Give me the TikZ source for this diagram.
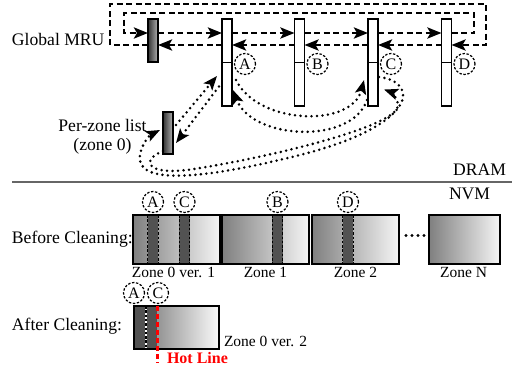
\documentclass[tikz,border=0pt]{standalone}
\usepackage{fontspec}
\setmainfont{Liberation Serif}
\usetikzlibrary{arrows.meta,calc}

\begin{document}
\begin{tikzpicture}[x=1pt,y=-1pt,
  font=\fontsize{17.6}{19}\selectfont,
  every node/.style={inner sep=0pt, outer sep=0pt},
  mru/.style={draw, line width=1.6pt, fill=white, minimum width=10pt, minimum height=87pt},
  listhead/.style={draw, line width=1.6pt, left color=black!80, right color=black!30, minimum width=10pt},
  tag/.style={circle, draw, dash pattern=on 2.4pt off 1.6pt, line width=1.2pt, fill=white, minimum size=21pt, font=\fontsize{16}{16}\selectfont},
  ptr/.style={line width=2.8pt, dash pattern=on 6pt off 3.5pt, -{Stealth[length=14pt,width=11pt,inset=3pt]}},
  dotptr/.style={line width=2.8pt, line cap=round, dash pattern=on 0pt off 5.5pt, -{Stealth[length=14pt,width=11pt,inset=3pt]}},
  zone/.style={draw, line width=1.8pt, left color=black!50, right color=black!4, minimum height=49pt},
  stripe/.style={fill=black!68, minimum width=10.5pt, minimum height=49pt},
  stripeedge/.style={line width=1.2pt, dash pattern=on 2.5pt off 1.8pt},
  lbl/.style={font=\fontsize{15.5}{16}\selectfont},
]
\fill[white] (0,0) rectangle (512,368);
\useasboundingbox (0,0) rectangle (512,368);

% ---------- DRAM: global MRU list ----------
\coordinate (fwd) at (0,33);
\coordinate (bwd) at (0,45);

\node[listhead, minimum height=43pt] (head) at (153,40.5) {};
\foreach \n/\x in {A/227,B/299.5,C/373,D/446.5}{
  \node[mru] (\n) at (\x,62.5) {};
  \draw[line width=1.8pt] (\n.west) -- (\n.east);
  \node[tag] (t\n) at ($(\n.east)+(13,1.5)$) {\n};
}
\node[anchor=base west] (gmru) at (12,45) {Global MRU};

% forward and backward pointers
\draw[ptr] (head.east |- fwd) -- (A.west |- fwd);
\draw[ptr] (A.east |- fwd) -- (B.west |- fwd);
\draw[ptr] (B.east |- fwd) -- (C.west |- fwd);
\draw[ptr] (C.east |- fwd) -- (D.west |- fwd);
\draw[ptr] (A.west |- bwd) -- (head.east |- bwd);
\draw[ptr] (B.west |- bwd) -- (A.east |- bwd);
\draw[ptr] (C.west |- bwd) -- (B.east |- bwd);
\draw[ptr] (D.west |- bwd) -- (C.east |- bwd);
% wrap-around pointers
\draw[ptr] (D.east |- fwd) -- (474,33) -- (474,13) -- (124,13) -- (124,33) -- (head.west |- fwd);
\draw[ptr] (head.west |- bwd) -- (110,45) -- (110,4) -- (486,4) -- (486,45) -- (D.east |- bwd);

% ---------- DRAM: per-zone list ----------
\node[listhead, minimum height=42pt] (pz) at (168,133) {};
\node[anchor=base] (pzl1) at (102.5,131) {Per-zone list};
\node[anchor=base] (pzl2) at (102.5,150) {(zone 0)};

\draw[dotptr] ($(pz.east)+(3,-8)$) -- ($(A.west)+(-5,13.5)$);
\draw[dotptr] ($(A.west)+(-3,24)$) -- ($(pz.east)+(3,10)$);
\draw[dotptr] ($(A.east)+(4,17.5)$) .. controls (258,125) and (352,128) .. ($(C.west)+(-4,17.5)$);
\draw[dotptr] ($(C.south west)+(-1,-6)$) .. controls (352,145) and (252,140) .. ($(A.east)+(1,27.5)$);
\draw[dotptr] ($(C.east)+(1,14.5)$) .. controls (420,82) and (418,125) .. (300,155)
   .. controls (200,180) and (135,185) .. (140,155)
   .. controls (142,143) and (150,135) .. ($(pz.west)+(-3,-3)$);
\draw[dotptr] ($(pz.south west)+(0,-3)$) .. controls (140,160) and (145,178) .. (200,168)
   .. controls (280,155) and (400,125) .. (398,105)
   .. controls (397,97) and (391,92) .. ($(C.east)+(6,27)$);

% ---------- DRAM / NVM boundary ----------
\draw[line width=2.8pt, black!60] (12,182) -- (512,182);
\node[anchor=base east] (dram) at (506,175) {DRAM};
\node[anchor=base west] (nvm) at (449,199) {NVM};

% ---------- NVM: before cleaning ----------
\node[anchor=base west] (before) at (12,243) {Before Cleaning:};
\node[zone, minimum width=87pt] (z0) at (176.5,239.5) {};
\node[zone, minimum width=87pt] (z1) at (265.5,239.5) {};
\node[zone, minimum width=87pt] (z2) at (355.5,239.5) {};
\node[zone, minimum width=71pt] (zN) at (464.5,239.5) {};

\foreach \s/\x in {A/153,C/184.5,B/277.5,D/348}{
  \node[stripe] (s\s) at (\x,239.5) {};
  \draw[stripeedge] (s\s.north west) -- (s\s.south west);
  \draw[stripeedge] (s\s.north east) -- (s\s.south east);
  \node[tag] (l\s) at ($(s\s.north)+(0,-13)$) {\s};
}
\foreach \z in {z0,z1,z2,zN}{
  \draw[line width=1.8pt] (\z.north west) rectangle (\z.south east);
}
\draw[line width=3.4pt, line cap=round, dash pattern=on 0pt off 6pt] ($(z2.east)+(7,-4)$) -- ($(zN.west)+(-5,-4)$);

\node[lbl, anchor=base] (z0l) at ($(z0.south)+(-3,13)$) {Zone 0 ver. 1};
\node[lbl, anchor=base] (z1l) at ($(z1.south)+(0,13)$) {Zone 1};
\node[lbl, anchor=base] (z2l) at ($(z2.south)+(0,13)$) {Zone 2};
\node[lbl, anchor=base] (zNl) at ($(zN.south)+(-1,13)$) {Zone N};

% ---------- NVM: after cleaning ----------
\node[anchor=base west] (after) at (12,330) {After Cleaning:};
\fill[black!68] (134,306) rectangle (157,349);
\shade[left color=black!42, right color=black!2] (157,306) rectangle (219,349);
\draw[white, line width=1.2pt] (146,306) -- (146,349);
\draw[stripeedge] (146,306) -- (146,349);
\node[draw, line width=1.8pt, minimum width=85pt, minimum height=43pt] (z0b) at (176.5,327.5) {};
\node[tag] (aA) at ($(z0b.north west)+(0,-13)$) {A};
\node[tag] (aC) at ($(z0b.north west)+(24,-13)$) {C};
\draw[red, line width=3pt, dash pattern=on 5pt off 3pt] ($(z0b.north west)+(23,0)$) -- ($(z0b.south west)+(23,14)$);
\node[anchor=base west, text=red, font={\fontsize{16}{16}\selectfont\bfseries}] (hot) at (167,363) {Hot Line};
\node[lbl, anchor=base west] (z0bl) at (224,346) {Zone 0 ver. 2};
\end{tikzpicture}
\end{document}
